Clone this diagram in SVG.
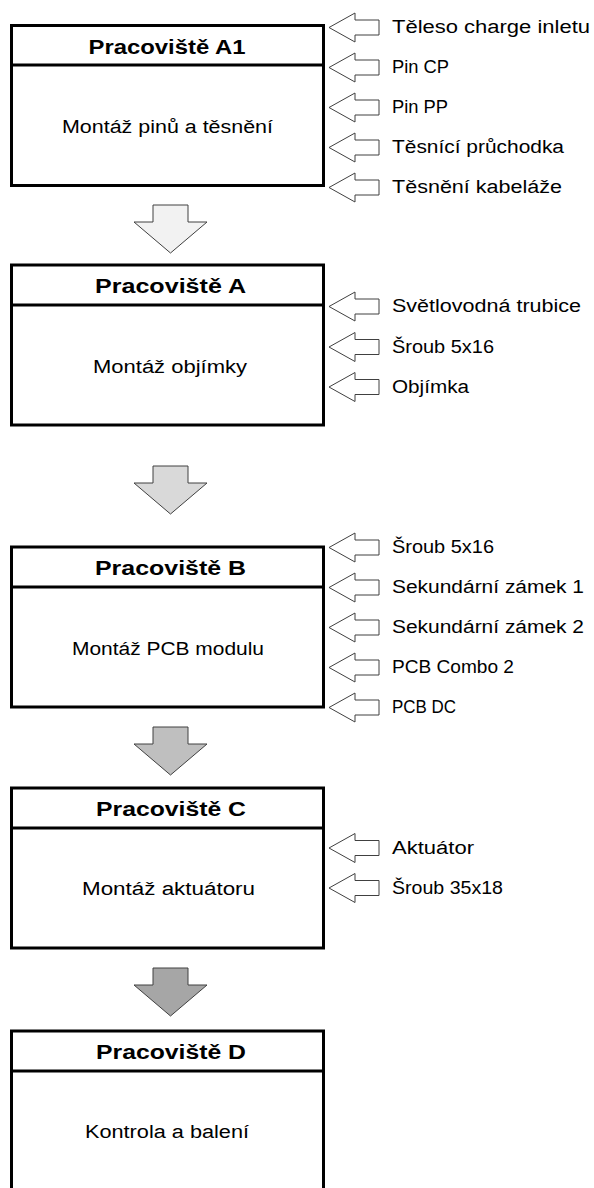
<svg xmlns="http://www.w3.org/2000/svg" xmlns:xlink="http://www.w3.org/1999/xlink" width="594" height="1188" viewBox="0 0 594 1188">
  <style>
    .box { fill: #ffffff; stroke: #000000; stroke-width: 3; }
    .div { stroke: #000000; stroke-width: 3; }
    .title { font-family: "Liberation Sans", Arial, sans-serif; font-weight: bold; font-size: 20px; fill: #000000; text-anchor: middle; }
    .body { font-family: "Liberation Sans", Arial, sans-serif; font-size: 18px; fill: #000000; text-anchor: middle; }
    .lbl { font-family: "Liberation Sans", Arial, sans-serif; font-size: 18px; fill: #000000; }
    .in { fill: #ffffff; stroke: #404040; stroke-width: 1; stroke-linejoin: miter; }
    .flow { stroke: #404040; stroke-width: 1; }
  </style>
  <defs>
    <!-- incoming part arrow, tip at (0,0) pointing left -->
    <path id="inArrow" d="M0,0 L26,-14.5 L26,-7.5 L50,-7.5 L50,7.5 L26,7.5 L26,14.5 Z"/>
    <!-- block arrow between stations, top-left of shaft at (0,0) -->
    <path id="downArrow" d="M0,0 L35,0 L35,17 L54,17 L17.5,48 L-19,17 L0,17 Z"/>
  </defs>

  <!-- flow between stations -->
  <g id="connectors">
    <use xlink:href="#downArrow" href="#downArrow" class="flow" x="153" y="205" fill="#f2f2f2"/>
    <use xlink:href="#downArrow" href="#downArrow" class="flow" x="153" y="466" fill="#d9d9d9"/>
    <use xlink:href="#downArrow" href="#downArrow" class="flow" x="153" y="727" fill="#bfbfbf"/>
    <use xlink:href="#downArrow" href="#downArrow" class="flow" x="153" y="968" fill="#a6a6a6"/>
  </g>

  <g id="stationA1">
    <rect class="box" x="11.5" y="25.5" width="312" height="160"/>
    <line class="div" x1="11.5" y1="65" x2="323.5" y2="65"/>
    <text class="title" x="167" y="54" textLength="157" lengthAdjust="spacingAndGlyphs">Pracoviště A1</text>
    <text class="body" x="167.5" y="133" textLength="211" lengthAdjust="spacingAndGlyphs">Montáž pinů a těsnění</text>
  </g>
  <g id="inputsA1">
    <use xlink:href="#inArrow" href="#inArrow" class="in" x="329" y="27.5"/>
    <use xlink:href="#inArrow" href="#inArrow" class="in" x="329" y="67.5"/>
    <use xlink:href="#inArrow" href="#inArrow" class="in" x="329" y="107.5"/>
    <use xlink:href="#inArrow" href="#inArrow" class="in" x="329" y="147.5"/>
    <use xlink:href="#inArrow" href="#inArrow" class="in" x="329" y="187.5"/>
    <text class="lbl" x="392" y="33" textLength="198" lengthAdjust="spacingAndGlyphs">Těleso charge inletu</text>
    <text class="lbl" x="392" y="73" textLength="57" lengthAdjust="spacingAndGlyphs">Pin CP</text>
    <text class="lbl" x="392" y="113" textLength="56" lengthAdjust="spacingAndGlyphs">Pin PP</text>
    <text class="lbl" x="392" y="153" textLength="172" lengthAdjust="spacingAndGlyphs">Těsnící průchodka</text>
    <text class="lbl" x="392" y="193" textLength="170" lengthAdjust="spacingAndGlyphs">Těsnění kabeláže</text>
  </g>

  <g id="stationA">
    <rect class="box" x="11.5" y="265" width="312" height="160"/>
    <line class="div" x1="11.5" y1="305" x2="323.5" y2="305"/>
    <text class="title" x="170.5" y="293" textLength="151" lengthAdjust="spacingAndGlyphs">Pracoviště A</text>
    <text class="body" x="170" y="373" textLength="154" lengthAdjust="spacingAndGlyphs">Montáž objímky</text>
  </g>
  <g id="inputsA">
    <use xlink:href="#inArrow" href="#inArrow" class="in" x="329" y="306.5"/>
    <use xlink:href="#inArrow" href="#inArrow" class="in" x="329" y="347"/>
    <use xlink:href="#inArrow" href="#inArrow" class="in" x="329" y="387"/>
    <text class="lbl" x="392" y="312" textLength="189" lengthAdjust="spacingAndGlyphs">Světlovodná trubice</text>
    <text class="lbl" x="392" y="353" textLength="102" lengthAdjust="spacingAndGlyphs">Šroub 5x16</text>
    <text class="lbl" x="392" y="393" textLength="77" lengthAdjust="spacingAndGlyphs">Objímka</text>
  </g>

  <g id="stationB">
    <rect class="box" x="11.5" y="547" width="312" height="160"/>
    <line class="div" x1="11.5" y1="587" x2="323.5" y2="587"/>
    <text class="title" x="170.5" y="575" textLength="151" lengthAdjust="spacingAndGlyphs">Pracoviště B</text>
    <text class="body" x="168" y="655" textLength="192" lengthAdjust="spacingAndGlyphs">Montáž PCB modulu</text>
  </g>
  <g id="inputsB">
    <use xlink:href="#inArrow" href="#inArrow" class="in" x="329" y="547.5"/>
    <use xlink:href="#inArrow" href="#inArrow" class="in" x="329" y="587.5"/>
    <use xlink:href="#inArrow" href="#inArrow" class="in" x="329" y="627.5"/>
    <use xlink:href="#inArrow" href="#inArrow" class="in" x="329" y="667.5"/>
    <use xlink:href="#inArrow" href="#inArrow" class="in" x="329" y="707.5"/>
    <text class="lbl" x="392" y="553" textLength="102" lengthAdjust="spacingAndGlyphs">Šroub 5x16</text>
    <text class="lbl" x="392" y="593" textLength="192" lengthAdjust="spacingAndGlyphs">Sekundární zámek 1</text>
    <text class="lbl" x="392" y="633" textLength="192" lengthAdjust="spacingAndGlyphs">Sekundární zámek 2</text>
    <text class="lbl" x="392" y="673" textLength="122" lengthAdjust="spacingAndGlyphs">PCB Combo 2</text>
    <text class="lbl" x="392" y="713" textLength="64" lengthAdjust="spacingAndGlyphs">PCB DC</text>
  </g>

  <g id="stationC">
    <rect class="box" x="11.5" y="788" width="312" height="160"/>
    <line class="div" x1="11.5" y1="828" x2="323.5" y2="828"/>
    <text class="title" x="171" y="816" textLength="150" lengthAdjust="spacingAndGlyphs">Pracoviště C</text>
    <text class="body" x="168.5" y="895" textLength="173" lengthAdjust="spacingAndGlyphs">Montáž aktuátoru</text>
  </g>
  <g id="inputsC">
    <use xlink:href="#inArrow" href="#inArrow" class="in" x="329" y="848"/>
    <use xlink:href="#inArrow" href="#inArrow" class="in" x="329" y="888"/>
    <text class="lbl" x="392" y="854" textLength="82" lengthAdjust="spacingAndGlyphs">Aktuátor</text>
    <text class="lbl" x="392" y="894" textLength="111" lengthAdjust="spacingAndGlyphs">Šroub 35x18</text>
  </g>

  <g id="stationD">
    <rect class="box" x="11.5" y="1031" width="312" height="170"/>
    <line class="div" x1="11.5" y1="1071" x2="323.5" y2="1071"/>
    <text class="title" x="171" y="1059" textLength="150" lengthAdjust="spacingAndGlyphs">Pracoviště D</text>
    <text class="body" x="167" y="1138" textLength="164" lengthAdjust="spacingAndGlyphs">Kontrola a balení</text>
  </g>
</svg>
